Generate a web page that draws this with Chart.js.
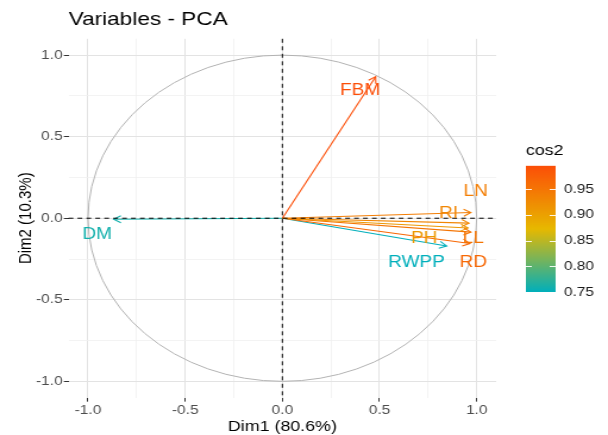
<!DOCTYPE html>
<html>
<head>
<meta charset="utf-8">
<title>Variables - PCA</title>
<script src="https://cdn.jsdelivr.net/npm/chart.js@4.4.1/dist/chart.umd.min.js"></script>
<style>
  html, body { margin: 0; padding: 0; background: #fff; }
  #wrap { width: 608px; height: 435px; overflow: hidden; }
  /* the reference is a fixed-aspect ggplot stretched sideways, so draw narrow and stretch */
  #pca { display: block; transform: scaleX(1.1898); transform-origin: 0 0; }
</style>
</head>
<body>
<div id="wrap"><canvas id="pca" width="511" height="435"></canvas></div>
<script>
// correlation circle data
const variables = ['FBM', 'LN', 'RI', 'PH', 'LL', 'RD', 'RWPP', 'DM'];
const dim1 = [0.48, 0.97, 0.96, 0.955, 0.97, 0.965, 0.845, -0.868];
const dim2 = [0.868, 0.035, -0.03, -0.06, -0.085, -0.155, -0.17, -0.006];
const cos2 = [0.995, 0.94, 0.93, 0.91, 0.95, 0.965, 0.75, 0.76];
// where the (repelled) labels sit, in data units
const labelX = [0.40, 0.995, 0.855, 0.73, 0.982, 0.982, 0.69, -0.953];
const labelY = [0.78, 0.163, 0.03, -0.126, -0.123, -0.274, -0.274, -0.098];

const axisTicks = [-1, -0.75, -0.5, -0.25, 0, 0.25, 0.5, 0.75, 1];
const majorTicks = [-1, -0.5, 0, 0.5, 1];
const cos2Ticks = [0.75, 0.80, 0.85, 0.90, 0.95];
const gradientCols = ['#00AFBB', '#E7B800', '#FC4E07'];

const FONT = '"Liberation Sans", Arial, Helvetica, sans-serif';
Chart.defaults.font.family = FONT;

const cosMin = Math.min(...cos2);
const cosMax = Math.max(...cos2);

function hexRgb(h) {
  const n = parseInt(h.slice(1), 16);
  return [(n >> 16) & 255, (n >> 8) & 255, n & 255];
}

function cosColor(v) {
  let t = (v - cosMin) / (cosMax - cosMin);
  t = Math.max(0, Math.min(1, t));
  const seg = t < 0.5 ? 0 : 1;
  const f = seg === 0 ? t * 2 : (t - 0.5) * 2;
  const a = hexRgb(gradientCols[seg]);
  const b = hexRgb(gradientCols[seg + 1]);
  const c = a.map((x, k) => Math.round(x + (b[k] - x) * f));
  return `rgb(${c[0]}, ${c[1]}, ${c[2]})`;
}

const isMajor = (v) => majorTicks.includes(v);

function axis(title) {
  return {
    type: 'linear',
    min: -1.1,
    max: 1.1,
    afterBuildTicks: (s) => { s.ticks = axisTicks.map((v) => ({ value: v })); },
    ticks: {
      autoSkip: false,
      maxRotation: 0,
      padding: 1,
      color: '#4D4D4D',
      font: { size: 13 },
      callback: (v) => (isMajor(v) ? v.toFixed(1) : ''),
    },
    grid: {
      color: (c) => (isMajor(c.tick.value) ? '#E3E3E3' : '#F0F0F0'),
      lineWidth: (c) => (isMajor(c.tick.value) ? 1 : 0.8),
      tickColor: (c) => (isMajor(c.tick.value) ? '#333333' : 'rgba(0,0,0,0)'),
      tickLength: 4,
    },
    border: { display: false },
    title: {
      display: true, text: title, color: '#000',
      font: { size: 15, lineHeight: 1.05 }, padding: { top: 0, bottom: 0 },
    },
  };
}

const pcaDecor = {
  id: 'pcaDecor',
  beforeDatasetsDraw(chart) {
    const { ctx } = chart;
    const xs = chart.scales.x, ys = chart.scales.y;
    const cx = xs.getPixelForValue(0), cy = ys.getPixelForValue(0);
    ctx.save();
    ctx.strokeStyle = '#B3B3B3';
    ctx.lineWidth = 1;
    ctx.beginPath();
    ctx.ellipse(cx, cy, xs.getPixelForValue(1) - cx, cy - ys.getPixelForValue(1), 0, 0, Math.PI * 2);
    ctx.stroke();
    ctx.restore();
  },
  afterDatasetsDraw(chart) {
    const { ctx, chartArea: area } = chart;
    const xs = chart.scales.x, ys = chart.scales.y;
    ctx.save();

    // open arrow heads
    variables.forEach((name, i) => {
      const pts = chart.getDatasetMeta(i).data;
      const p0 = pts[0], p1 = pts[1];
      const ang = Math.atan2(p1.y - p0.y, p1.x - p0.x);
      const len = 7;
      ctx.strokeStyle = cosColor(cos2[i]);
      ctx.lineWidth = 1.1;
      ctx.beginPath();
      ctx.moveTo(p1.x - len * Math.cos(ang - Math.PI / 6), p1.y - len * Math.sin(ang - Math.PI / 6));
      ctx.lineTo(p1.x, p1.y);
      ctx.lineTo(p1.x - len * Math.cos(ang + Math.PI / 6), p1.y - len * Math.sin(ang + Math.PI / 6));
      ctx.stroke();
    });

    // dashed zero lines
    const zx = xs.getPixelForValue(0), zy = ys.getPixelForValue(0);
    ctx.strokeStyle = '#000';
    ctx.lineWidth = 1;
    ctx.setLineDash([4, 3.5]);
    ctx.beginPath();
    ctx.moveTo(area.left, zy);
    ctx.lineTo(area.right, zy);
    ctx.moveTo(zx, area.top);
    ctx.lineTo(zx, area.bottom);
    ctx.stroke();
    ctx.setLineDash([]);

    // variable labels
    ctx.font = `16px ${FONT}`;
    ctx.textAlign = 'center';
    ctx.textBaseline = 'middle';
    variables.forEach((name, i) => {
      ctx.fillStyle = cosColor(cos2[i]);
      ctx.fillText(name, xs.getPixelForValue(labelX[i]), ys.getPixelForValue(labelY[i]));
    });
    ctx.restore();
  },
  afterDraw(chart) {
    // cos2 colour bar legend
    const { ctx, chartArea: area } = chart;
    const barX = area.right + 25, barW = 25;
    const yOf = (v) => 292 - (v - 0.75) * 515;
    const top = yOf(cosMax), bottom = yOf(cosMin);
    ctx.save();
    const g = ctx.createLinearGradient(0, bottom, 0, top);
    for (let k = 0; k <= 40; k++) {
      g.addColorStop(k / 40, cosColor(cosMin + (cosMax - cosMin) * k / 40));
    }
    ctx.fillStyle = g;
    ctx.fillRect(barX, top, barW, bottom - top);

    ctx.strokeStyle = 'rgba(255,255,255,0.9)';
    ctx.lineWidth = 1;
    ctx.font = `13px ${FONT}`;
    ctx.fillStyle = '#1A1A1A';
    ctx.textAlign = 'left';
    ctx.textBaseline = 'middle';
    cos2Ticks.forEach((v) => {
      const y = Math.round(yOf(v)) + 0.5;
      ctx.beginPath();
      ctx.moveTo(barX, y); ctx.lineTo(barX + 5, y);
      ctx.moveTo(barX + barW - 5, y); ctx.lineTo(barX + barW, y);
      ctx.stroke();
      ctx.fillText(v.toFixed(2), barX + barW + 7, yOf(v));
    });

    ctx.font = `15px ${FONT}`;
    ctx.fillStyle = '#000';
    ctx.textBaseline = 'alphabetic';
    ctx.fillText('cos2', barX, 155);
    ctx.restore();
  },
};

new Chart(document.getElementById('pca'), {
  type: 'scatter',
  data: {
    datasets: variables.map((name, i) => ({
      label: name,
      data: [{ x: 0, y: 0 }, { x: dim1[i], y: dim2[i] }],
      showLine: true,
      borderColor: cosColor(cos2[i]),
      borderWidth: 1.1,
      pointRadius: 0,
      pointHoverRadius: 0,
    })),
  },
  options: {
    responsive: false,
    animation: false,
    layout: { padding: { left: 13.5, right: 94, top: 5, bottom: 0 } },
    plugins: {
      legend: { display: false },
      tooltip: { enabled: false },
      title: {
        display: true,
        text: 'Variables - PCA',
        align: 'start',
        fullSize: false,
        color: '#000',
        font: { size: 19, weight: 'normal' },
        padding: { top: 3, bottom: 8 },
      },
    },
    scales: { x: axis('Dim1 (80.6%)'), y: axis('Dim2 (10.3%)') },
  },
  plugins: [pcaDecor],
});
</script>
</body>
</html>
